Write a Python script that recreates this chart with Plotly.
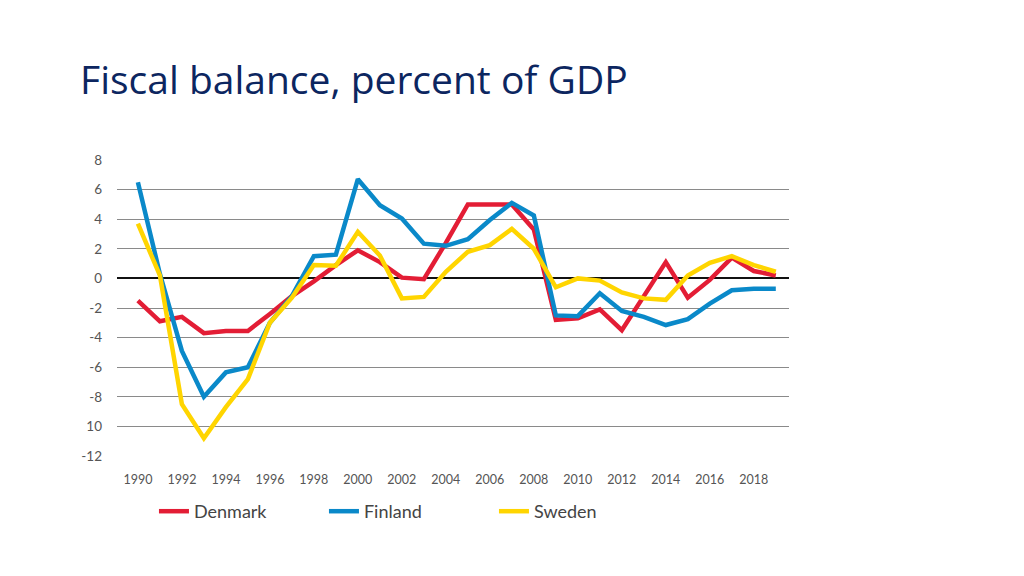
import plotly.graph_objects as go

# Fiscal balance, percent of GDP
years = list(range(1990, 2020))

denmark = [-1.5, -2.9, -2.6, -3.7, -3.55, -3.55, -2.4, -1.2, -0.2, 0.9,
           1.9, 1.1, 0.05, -0.05, 2.4, 5.0, 5.0, 5.0, 3.3, -2.8,
           -2.7, -2.1, -3.5, -1.2, 1.1, -1.3, -0.1, 1.4, 0.5, 0.2]
finland = [6.5, 0.3, -4.9, -8.0, -6.35, -6.0, -3.0, -1.2, 1.5, 1.6,
           6.7, 4.95, 4.05, 2.35, 2.2, 2.65, 3.95, 5.1, 4.25, -2.5,
           -2.55, -1.0, -2.2, -2.6, -3.15, -2.75, -1.7, -0.8, -0.7, -0.7]
sweden = [3.7, 0.2, -8.5, -10.8, -8.7, -6.8, -3.0, -1.3, 0.9, 0.85,
          3.15, 1.55, -1.35, -1.25, 0.45, 1.8, 2.25, 3.35, 2.0, -0.6,
          0.0, -0.15, -0.95, -1.35, -1.45, 0.2, 1.05, 1.5, 0.9, 0.45]

x_ticks = list(range(1990, 2019, 2))
y_ticks = [8, 6, 4, 2, 0, -2, -4, -6, -8, -10, -12]
y_labels = ["8", "6", "4", "2", "0", "-2", "-4", "-6", "-8", "10", "-12"]

colors = {"Denmark": "#e31d35", "Finland": "#0a89c9", "Sweden": "#ffd500"}

fig = go.Figure()
for name, vals in [("Denmark", denmark), ("Finland", finland), ("Sweden", sweden)]:
    fig.add_trace(go.Scatter(x=years, y=vals, name=name, mode="lines",
                             line=dict(color=colors[name], width=4.5)))

fig.update_layout(
    width=1024, height=576,
    paper_bgcolor="white", plot_bgcolor="white",
    margin=dict(l=109, r=243, t=152, b=128),
    title=dict(text="Fiscal balance, percent of GDP", x=72 / 1024, xanchor="left",
               y=1 - 59 / 576, yanchor="top",
               font=dict(family="Open Sans", size=39, weight=500, color="#0c2660")),
    font=dict(family="Lato", color="#555555"),
    showlegend=True,
    legend=dict(orientation="h", x=0.055, xanchor="left", y=-0.125, yanchor="top",
                font=dict(size=18, color="#444444"), entrywidth=125,
                entrywidthmode="pixels"),
)
fig.update_xaxes(range=[1989.05, 2019.6], tickvals=x_ticks, showgrid=False,
                 zeroline=False, showline=False, ticklabelstandoff=14,
                 tickfont=dict(size=12.5, color="#555555"))
fig.update_yaxes(range=[-12, 8], tickvals=y_ticks, ticktext=y_labels,
                 showgrid=True, gridcolor="#8a8a8a", gridwidth=1,
                 zeroline=True, zerolinecolor="#111111", zerolinewidth=2,
                 showline=False, ticklabelstandoff=14,
                 tickfont=dict(size=13.5, color="#555555"))

fig.write_html("out.html")
